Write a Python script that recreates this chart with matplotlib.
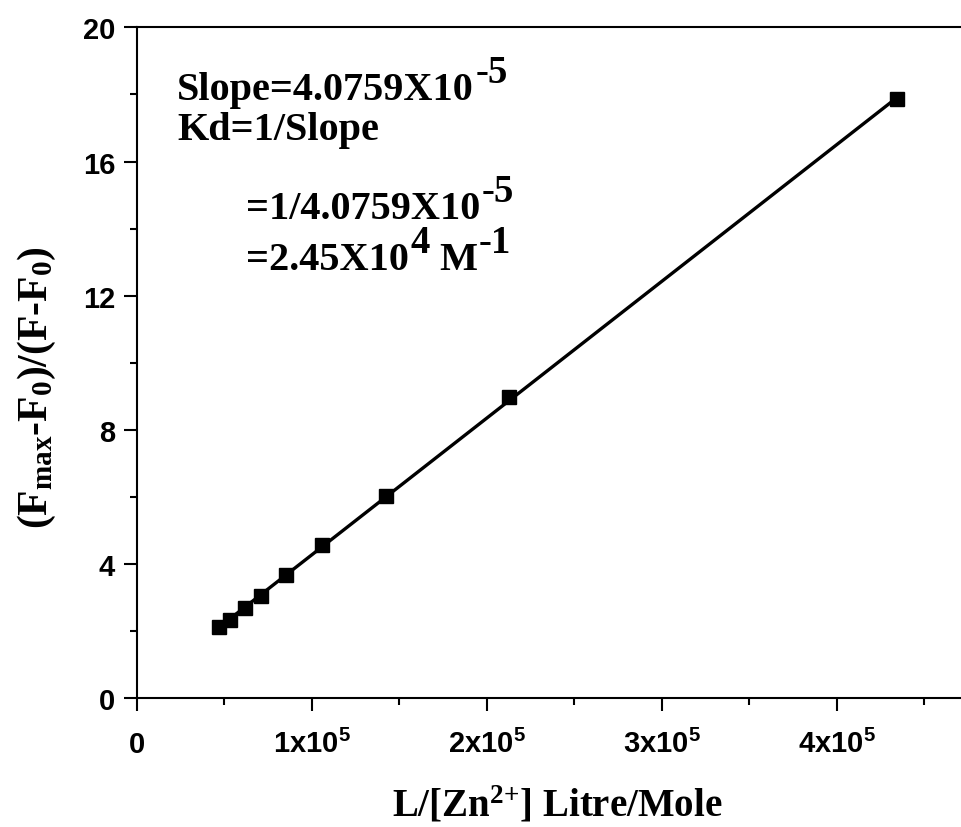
import numpy as np
import matplotlib
matplotlib.use("Agg")
import matplotlib.pyplot as plt
from matplotlib.ticker import MultipleLocator, FixedLocator

plt.rcParams['mathtext.fontset'] = 'custom'
plt.rcParams['mathtext.rm'] = 'Liberation Serif:bold'
plt.rcParams['mathtext.bf'] = 'Liberation Serif:bold'
plt.rcParams['mathtext.sf'] = 'Liberation Sans:bold'
plt.rcParams['mathtext.it'] = 'Liberation Serif:bold'

# Benesi-Hildebrand style data: L/[Zn2+] vs (Fmax-F0)/(F-F0)
conc_ratio = np.array([0.472e5, 0.533e5, 0.621e5, 0.710e5, 0.851e5,
                       1.061e5, 1.425e5, 2.127e5, 4.346e5])
f_ratio = np.array([2.12, 2.34, 2.68, 3.05, 3.67, 4.56, 6.04, 8.97, 17.86])

x_ticks = [0, 1e5, 2e5, 3e5, 4e5]
x_tick_labels = [r'$\mathsf{0}$', r'$\mathsf{1x10^{5}}$', r'$\mathsf{2x10^{5}}$',
                 r'$\mathsf{3x10^{5}}$', r'$\mathsf{4x10^{5}}$']
y_ticks = [0, 4, 8, 12, 16, 20]

W, H = 961, 828
fig = plt.figure(figsize=(W / 100, H / 100), dpi=100)
ax_l, ax_b, ax_w, ax_h = 0.1422, 0.1554, 0.8578, 0.8104
ax = fig.add_axes([ax_l, ax_b, ax_w, ax_h])

# linear fit line through the points
slope, intercept = np.polyfit(conc_ratio, f_ratio, 1)
xfit = np.array([conc_ratio.min(), conc_ratio.max()])
ax.plot(xfit, slope * xfit + intercept, color='black', lw=2.4, zorder=2)
ax.plot(conc_ratio, f_ratio, 's', color='black', ms=10, zorder=3)

ax.set_xlim(0, 4.71e5)
ax.set_ylim(0, 20)
ax.xaxis.set_major_locator(FixedLocator(x_ticks))
ax.xaxis.set_minor_locator(MultipleLocator(0.5e5))
ax.yaxis.set_major_locator(FixedLocator(y_ticks))
ax.yaxis.set_minor_locator(MultipleLocator(2))
ax.set_xticklabels(x_tick_labels)
ax.set_yticklabels([str(v) for v in y_ticks])

for lbl in ax.get_xticklabels() + ax.get_yticklabels():
    lbl.set_fontfamily('Liberation Sans')
    lbl.set_fontweight('bold')
    lbl.set_fontsize(21)
for lbl in ax.get_xticklabels():
    lbl.set_va('baseline')

ax.tick_params(which='major', direction='out', length=9.5, width=1.5,
               top=False, right=False)
ax.tick_params(which='minor', direction='out', length=5, width=1.5,
               top=False, right=False)
ax.tick_params(axis='x', which='major', pad=29.5)
ax.tick_params(axis='y', which='major', pad=6)

for side in ['left', 'bottom', 'top']:
    ax.spines[side].set_linewidth(1.5)
ax.spines['right'].set_visible(False)

def axes_xy(px, py):
    """pixel position (from top-left of the figure) -> axes fraction"""
    return ((px - ax_l * W) / (ax_w * W), ((H - py) - ax_b * H) / (ax_h * H))

ax.set_xlabel(r'L/[Zn$^{\text{2+}}$] Litre/Mole', fontfamily='Liberation Serif',
              fontweight='bold', fontsize=28, va='baseline', ha='center')
ax.xaxis.set_label_coords(*axes_xy(557, 817))
ax.set_ylabel(r'(F$_{max}$-F$_0$)/(F-F$_0$)', fontfamily='Liberation Serif',
              fontweight='bold', fontsize=30, va='center', ha='center')
ax.yaxis.set_label_coords(*axes_xy(37, 388))

# annotation block with full-size raised exponents
FS = 29
txt = dict(fontfamily='Liberation Serif', fontweight='bold')

def put(px, py, parts):
    """parts: list of (string, is_superscript)"""
    first, _ = parts[0]
    prev = ax.text(*axes_xy(px, py), first, transform=ax.transAxes,
                   va='baseline', ha='left', fontsize=FS, **txt)
    base = prev
    for s, sup in parts[1:]:
        rise = 12.5 if sup else 0
        gap = 1 if sup else 0
        prev = ax.annotate(s, xy=(1, 0), xycoords=(prev, base),
                           xytext=(gap, rise), textcoords='offset points',
                           va='bottom', ha='left',
                           fontsize=FS - 1 if sup else FS, **txt)

put(177, 100, [('Slope=4.0759X10', False), ('-5', True)])
put(177, 140, [('Kd=1/Slope', False)])
put(246, 219, [('=1/4.0759X10', False), ('-5', True)])
put(246, 270, [('=2.45X10', False), ('4', True), (' M', False), ('-1', True)])

fig.savefig('out.png', dpi=100, facecolor='white')
